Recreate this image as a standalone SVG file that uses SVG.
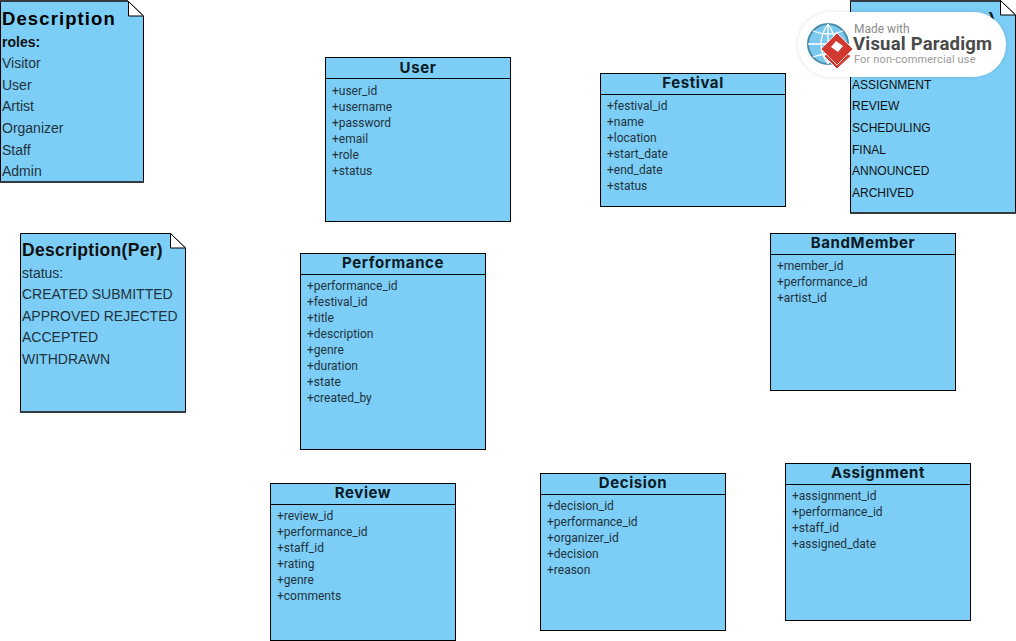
<svg xmlns="http://www.w3.org/2000/svg" width="1016" height="641" viewBox="0 0 1016 641">
<style>
.box{fill:#7ccef6;stroke:#000;stroke-width:1}
.fold{fill:#fff;stroke:#000;stroke-width:1}
.t{font-family:Inter,"Liberation Sans",sans-serif;font-weight:700;font-size:15px;letter-spacing:.6px;fill:#0b1a24;text-anchor:middle}
.a{font-family:Roboto,"Liberation Sans",sans-serif;font-size:12px;fill:#22323d}
.h{font-family:"Liberation Sans",sans-serif;font-weight:700;font-size:18.5px;letter-spacing:1.100px;fill:#000}
.h2{font-family:"Liberation Sans",sans-serif;font-weight:700;font-size:17.5px;letter-spacing:.3px;fill:#111}
.b{font-family:"Liberation Sans",sans-serif;font-size:14px;fill:#22323d}
.bb{font-family:"Liberation Sans",sans-serif;font-size:14px;font-weight:700;fill:#111}
.s{font-family:"Liberation Sans",sans-serif;font-size:12px;fill:#111}
.edge{fill:none;stroke:#333a40;stroke-width:2}
</style>
<defs><filter id="sh" x="-10%" y="-20%" width="120%" height="140%"><feGaussianBlur stdDeviation="2"/></filter></defs>
<g id="connectors"/>
<g id="note-roles">
<path class="box" d="M.5 1.500H128.500L143.500 16V182H.5Z"/>
<path class="fold" d="M128.500 1.500V16H143.500Z"/>
<path class="edge" d="M0 1H128M0 182H144"/>
<text class="h" x="2" y="25">Description</text>
<text class="bb" x="2" y="47">roles:</text>
<text class="b" x="2" y="68">Visitor</text>
<text class="b" x="2" y="90">User</text>
<text class="b" x="2" y="111">Artist</text>
<text class="b" x="2" y="133">Organizer</text>
<text class="b" x="2" y="155">Staff</text>
<text class="b" x="2" y="176">Admin</text>
</g>
<g id="note-per">
<path class="box" d="M20.500 233.500H170.500L185.500 248V412H20.500Z"/>
<path class="fold" d="M170.500 233.500V248H185.500Z"/>
<path class="edge" d="M20 412H186"/>
<text class="h2" x="22" y="256">Description(Per)</text>
<text class="b" x="22" y="278">status:</text>
<text class="b" x="22" y="299">CREATED SUBMITTED</text>
<text class="b" x="22" y="321">APPROVED REJECTED</text>
<text class="b" x="22" y="342">ACCEPTED</text>
<text class="b" x="22" y="364">WITHDRAWN</text>
</g>
<g id="note-fes">
<path class="box" d="M850.500 .5H1000.500L1015.500 15V213H850.500Z"/>
<path class="fold" d="M1000.500 .5V15H1015.500Z"/>
<path class="edge" d="M850 1H1000M850 213H1016"/>
<text class="h2" x="852" y="25">Description(Fes)</text>
<text class="s" x="852" y="89">ASSIGNMENT</text>
<text class="s" x="852" y="110">REVIEW</text>
<text class="s" x="852" y="132">SCHEDULING</text>
<text class="s" x="852" y="154">FINAL</text>
<text class="s" x="852" y="175">ANNOUNCED</text>
<text class="s" x="852" y="197">ARCHIVED</text>
</g>
<g id="user">
<rect class="box" x="325.500" y="57.500" width="185" height="164"/><path class="box" d="M325.500 78.500H510.500"/>
<text class="t" x="418" y="73">User</text>
<text class="a" x="332" y="95">+user_id</text><text class="a" x="332" y="111">+username</text><text class="a" x="332" y="127">+password</text><text class="a" x="332" y="143">+email</text><text class="a" x="332" y="159">+role</text><text class="a" x="332" y="175">+status</text>
</g>
<g id="festival">
<rect class="box" x="600.500" y="73.500" width="185" height="133"/><path class="box" d="M600.500 94.500H785.500"/>
<text class="t" x="693" y="88">Festival</text>
<text class="a" x="607" y="110">+festival_id</text><text class="a" x="607" y="126">+name</text><text class="a" x="607" y="142">+location</text><text class="a" x="607" y="158">+start_date</text><text class="a" x="607" y="174">+end_date</text><text class="a" x="607" y="190">+status</text>
</g>
<g id="bandmember">
<rect class="box" x="770.500" y="233.500" width="185" height="157"/><path class="box" d="M770.500 254.500H955.500"/>
<text class="t" x="863" y="248">BandMember</text>
<text class="a" x="777" y="270">+member_id</text><text class="a" x="777" y="286">+performance_id</text><text class="a" x="777" y="302">+artist_id</text>
</g>
<g id="performance">
<rect class="box" x="300.500" y="253.500" width="185" height="196"/><path class="box" d="M300.500 274.500H485.500"/>
<text class="t" x="393" y="268">Performance</text>
<text class="a" x="307" y="290">+performance_id</text><text class="a" x="307" y="306">+festival_id</text><text class="a" x="307" y="322">+title</text><text class="a" x="307" y="338">+description</text><text class="a" x="307" y="354">+genre</text><text class="a" x="307" y="370">+duration</text><text class="a" x="307" y="386">+state</text><text class="a" x="307" y="402">+created_by</text>
</g>
<g id="review">
<rect class="box" x="270.500" y="483.500" width="185" height="157"/><path class="box" d="M270.500 504.500H455.500"/>
<text class="t" x="363" y="498">Review</text>
<text class="a" x="277" y="520">+review_id</text><text class="a" x="277" y="536">+performance_id</text><text class="a" x="277" y="552">+staff_id</text><text class="a" x="277" y="568">+rating</text><text class="a" x="277" y="584">+genre</text><text class="a" x="277" y="600">+comments</text>
</g>
<g id="decision">
<rect class="box" x="540.500" y="473.500" width="185" height="157"/><path class="box" d="M540.500 494.500H725.500"/>
<text class="t" x="633" y="488">Decision</text>
<text class="a" x="547" y="510">+decision_id</text><text class="a" x="547" y="526">+performance_id</text><text class="a" x="547" y="542">+organizer_id</text><text class="a" x="547" y="558">+decision</text><text class="a" x="547" y="574">+reason</text>
</g>
<g id="assignment">
<rect class="box" x="785.500" y="463.500" width="185" height="157"/><path class="box" d="M785.500 484.500H970.500"/>
<text class="t" x="878" y="478">Assignment</text>
<text class="a" x="792" y="500">+assignment_id</text><text class="a" x="792" y="516">+performance_id</text><text class="a" x="792" y="532">+staff_id</text><text class="a" x="792" y="548">+assigned_date</text>
</g>
<g id="badge">
<rect x="798" y="12" width="208" height="65" rx="32.500" fill="#000" opacity=".12" filter="url(#sh)"/>
<rect x="798" y="12" width="208" height="65" rx="32.500" fill="#fff"/>
<circle cx="828" cy="44" r="20" fill="#7cc9ef" stroke="#4a8ba8" stroke-width="2"/>
<path d="M808 44H848M828 24V64M813 31Q828 37 843 31M813 57Q828 51 843 57M828 24Q814 44 828 64M828 24Q842 44 828 64" fill="none" stroke="#fff" stroke-width="1.300"/>
<path d="M824 56L837 69L851 56L837 46Z" fill="#d0392f" stroke="#fff" stroke-width="1"/>
<path d="M837 33L853 49L837 65L821 49Z" fill="#d0392f" stroke="#fff" stroke-width=".8"/>
<path d="M836 41L843 46L838 52L831 47Z" fill="#fff"/>
<text x="854" y="33" font-family="Roboto,sans-serif" font-size="12" fill="#8a8a8a">Made with</text>
<text x="853" y="50" font-family="Roboto,sans-serif" font-weight="700" font-size="18.500" letter-spacing=".2" fill="#4a4a4a">Visual Paradigm</text>
<text x="854" y="63" font-family="Roboto,sans-serif" font-size="11" letter-spacing=".15" fill="#9a9a9a">For non-commercial use</text>
</g>
</svg>
